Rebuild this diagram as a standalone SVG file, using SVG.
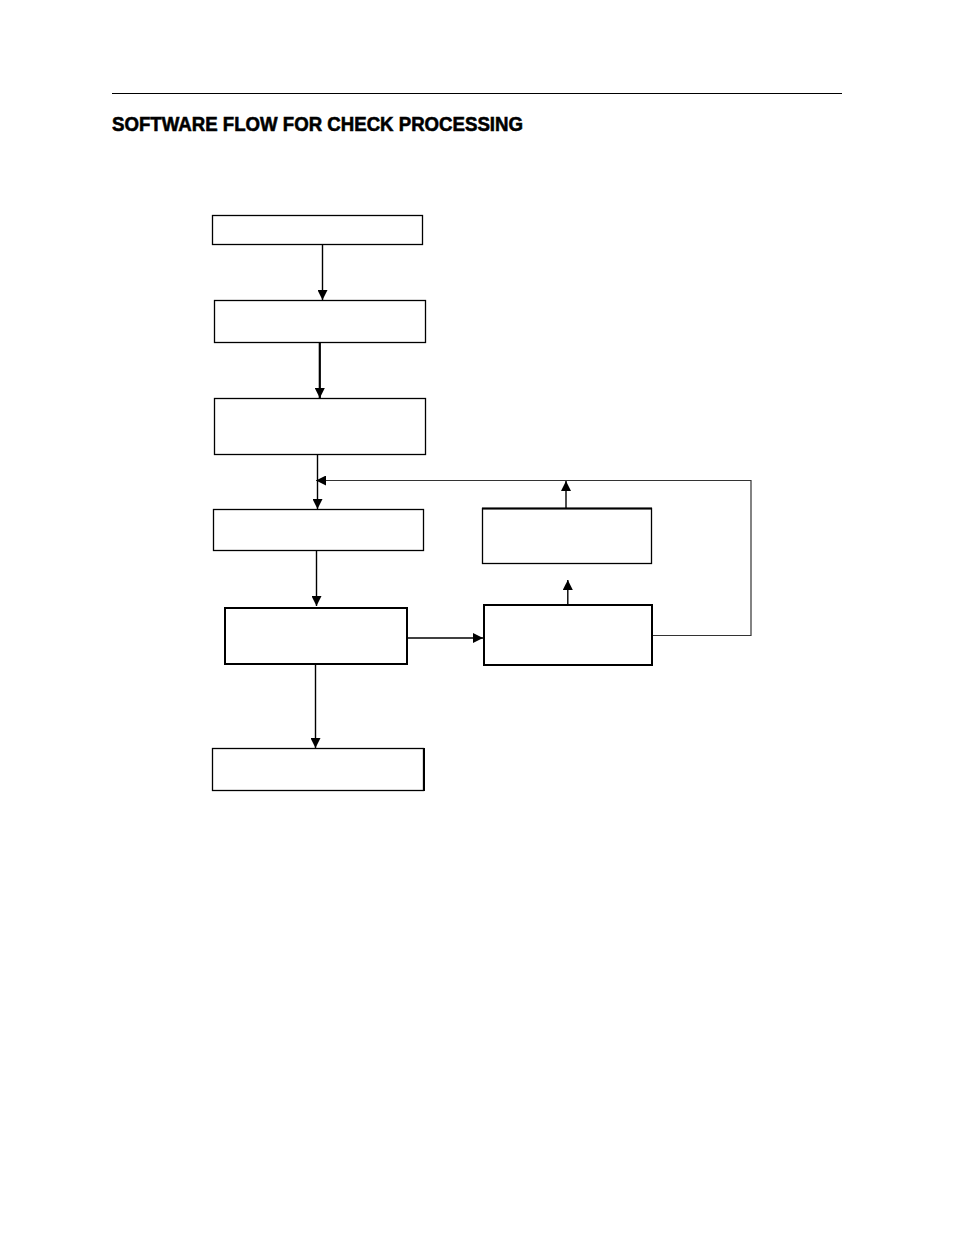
<svg xmlns="http://www.w3.org/2000/svg" width="954" height="1235" viewBox="0 0 954 1235">
<style>
.box{fill:#fff;stroke:#000;stroke-width:1.3}
.thick{stroke-width:2}
.c{fill:none;stroke:#000;stroke-width:1.4}
.w2{stroke-width:2.2}
.g{fill:none;stroke:#333;stroke-width:1.2}
.title{font-family:"Liberation Sans",Arial,sans-serif;font-weight:bold;font-size:20px;fill:#000;stroke:#000;stroke-width:0.6}
</style>
<defs>
<marker id="ah" viewBox="0 0 10 10" refX="10" refY="5" markerWidth="11" markerHeight="10" markerUnits="userSpaceOnUse" orient="auto">
<path d="M0,0 L10,5 L0,10 Z" fill="#000"/>
</marker>
</defs>
<rect width="954" height="1235" fill="#fff"/>
<line x1="112" y1="93.5" x2="842" y2="93.5" stroke="#000" stroke-width="1.2"/>
<text class="title" x="112" y="131" textLength="411" lengthAdjust="spacingAndGlyphs">SOFTWARE FLOW FOR CHECK PROCESSING</text>
<g id="connectors">
<line class="c" x1="322.5" y1="244" x2="322.5" y2="300" marker-end="url(#ah)"/>
<line class="c w2" x1="319.8" y1="342" x2="319.8" y2="398" marker-end="url(#ah)"/>
<line class="c" x1="317.5" y1="454" x2="317.5" y2="509" marker-end="url(#ah)"/>
<polyline class="g" points="652,635.5 751,635.5 751,480.5 316,480.5" marker-end="url(#ah)"/>
<line class="c" x1="316.5" y1="550" x2="316.5" y2="606" marker-end="url(#ah)"/>
<line class="c" x1="407" y1="638" x2="483" y2="638" marker-end="url(#ah)"/>
<line class="c" x1="567.8" y1="604" x2="567.8" y2="580" marker-end="url(#ah)"/>
<line class="c" x1="566" y1="508" x2="566" y2="481" marker-end="url(#ah)"/>
<line class="c" x1="315.5" y1="664" x2="315.5" y2="748" marker-end="url(#ah)"/>
</g>
<g id="n1"><rect class="box" x="212.5" y="215.5" width="210" height="29"/></g>
<g id="n2"><rect class="box" x="214.5" y="300.5" width="211" height="42"/></g>
<g id="n3"><rect class="box" x="214.5" y="398.5" width="211" height="56"/></g>
<g id="n4"><rect class="box" x="213.5" y="509.5" width="210" height="41"/></g>
<g id="n5"><rect class="box thick" x="225" y="608" width="182" height="56"/></g>
<g id="n6"><rect class="box thick" x="484" y="605" width="168" height="60"/></g>
<g id="n7"><rect class="box" x="482.5" y="508.5" width="169" height="55"/><line x1="482" y1="508.5" x2="652" y2="508.5" stroke="#000" stroke-width="2"/></g>
<g id="n8"><rect class="box" x="212.5" y="748.5" width="211" height="42"/><line x1="424" y1="748" x2="424" y2="791" stroke="#000" stroke-width="2"/></g>
</svg>
